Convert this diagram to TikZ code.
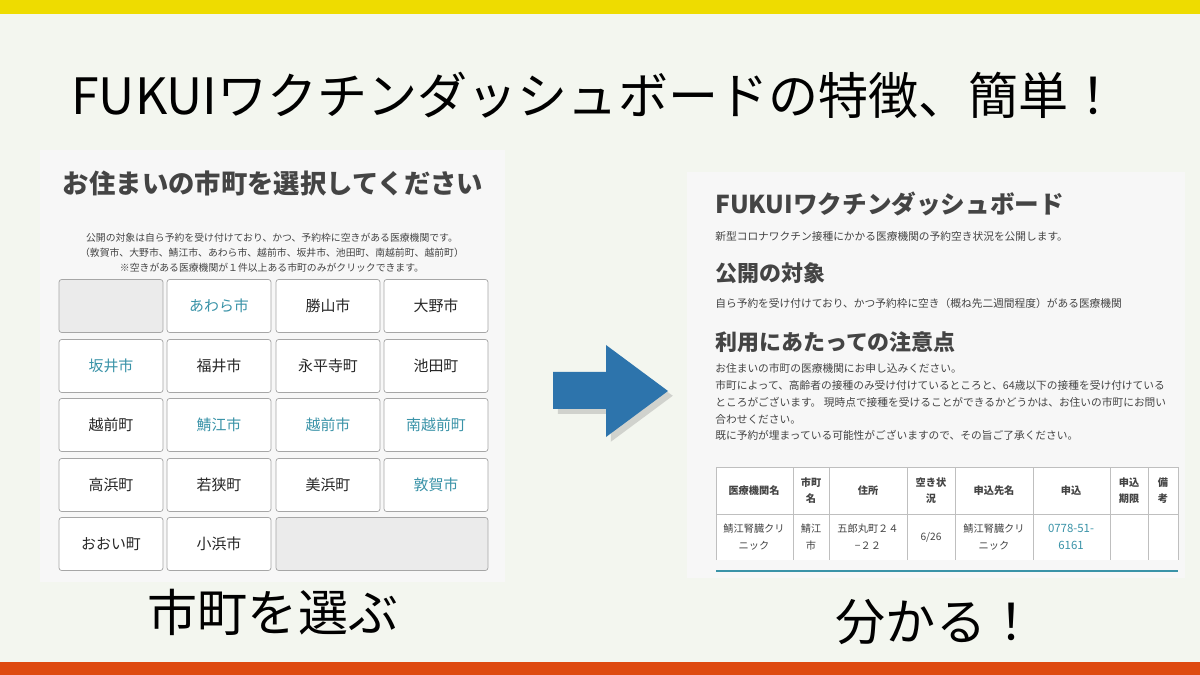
\documentclass[tikz,border=0pt]{standalone}
\usepackage{fontspec}
\setmainfont{Noto Sans CJK JP}
\usetikzlibrary{shadows}
\definecolor{bgcol}{HTML}{F3F6EF}
\definecolor{panelcol}{HTML}{F7F7F7}
\definecolor{textcol}{HTML}{444444}
\definecolor{tealcol}{HTML}{3A93A8}
\definecolor{arrowcol}{HTML}{2D74AC}
\definecolor{topbar}{HTML}{EEDC00}
\definecolor{bottombar}{HTML}{DE4A10}

\begin{document}
\begin{tikzpicture}[x=0.02cm,y=-0.02cm,
    cell/.style={draw=gray!70,fill=white,rounded corners=1.5pt,minimum width=2.08cm,
        minimum height=1.06cm,inner sep=0pt,font=\fontsize{8.5}{10}\selectfont,text=black!85},
    town/.style={cell,text=tealcol},
    blank/.style={cell,fill=black!8},
    note/.style={font=\fontsize{6.1}{9.6}\selectfont,text=textcol,anchor=west,inner sep=0pt},
    head/.style={font=\fontsize{12.5}{14}\selectfont\bfseries,text=textcol,anchor=west,inner sep=0pt},
    th/.style={font=\fontsize{5.8}{9}\selectfont\bfseries,text=textcol,align=center,inner sep=0pt},
    td/.style={font=\fontsize{5.8}{9.6}\selectfont,text=textcol,align=center,inner sep=0pt},
    big/.style={font=\fontsize{28.5}{32}\selectfont}]
    \useasboundingbox (0,0) rectangle (1200,675);
    \fill[bgcol] (0,0) rectangle (1200,675);
    \fill[topbar] (0,0) rectangle (1200,14);
    \fill[bottombar] (0,662) rectangle (1200,675);

    \node[big] (title) at (595,95) {FUKUIワクチンダッシュボードの特徴、簡単！};

    % left: choose a town
    \fill[panelcol] (40,150) rectangle (505,582);
    \node[font=\fontsize{15}{18}\selectfont\bfseries,text=textcol] (pick) at (273,183) {お住まいの市町を選択してください};
    \node[font=\fontsize{5.6}{8.6}\selectfont,text=textcol,align=center] (pickinfo) at (272,253)
        {公開の対象は自ら予約を受け付けており、かつ、予約枠に空きがある医療機関です。\\
         （敦賀市、大野市、鯖江市、あわら市、越前市、坂井市、池田町、南越前町、越前町）\\
         ※空きがある医療機関が１件以上ある市町のみがクリックできます。};
    \node[blank] (c11) at (111,306) {};
    \node[town] (c12) at (219,306) {あわら市};
    \node[cell] (c13) at (328,306) {勝山市};
    \node[cell] (c14) at (436,306) {大野市};
    \node[town] (c21) at (111,366) {坂井市};
    \node[cell] (c22) at (219,366) {福井市};
    \node[cell] (c23) at (328,366) {永平寺町};
    \node[cell] (c24) at (436,366) {池田町};
    \node[cell] (c31) at (111,425) {越前町};
    \node[town] (c32) at (219,425) {鯖江市};
    \node[town] (c33) at (328,425) {越前市};
    \node[town] (c34) at (436,425) {南越前町};
    \node[cell] (c41) at (111,485) {高浜町};
    \node[cell] (c42) at (219,485) {若狭町};
    \node[cell] (c43) at (328,485) {美浜町};
    \node[town] (c44) at (436,485) {敦賀市};
    \node[cell] (c51) at (111,544) {おおい町};
    \node[cell] (c52) at (219,544) {小浜市};
    \node[blank,minimum width=4.24cm] (c53) at (382,544) {};
    \node[big] (choose) at (273,612) {市町を選ぶ};

    % arrow
    \fill[arrowcol,drop shadow={opacity=0.3}] (553,372) -- (606,372) -- (606,345) -- (668,391)
        -- (606,437) -- (606,409) -- (553,409) -- cycle;

    % right: dashboard
    \fill[panelcol] (687,172) rectangle (1185,578);
    \node[head,font=\fontsize{14}{16}\selectfont\bfseries] (dash) at (715,204) {FUKUIワクチンダッシュボード};
    \node[note] (dashsub) at (715,236) {新型コロナワクチン接種にかかる医療機関の予約空き状況を公開します。};
    \node[head] (scope) at (715,273) {公開の対象};
    \node[note] (scopetxt) at (715,303) {自ら予約を受け付けており、かつ予約枠に空き（概ね先二週間程度）がある医療機関};
    \node[head] (caution) at (715,342) {利用にあたっての注意点};
    \node[note,anchor=north west,align=left] (cautiontxt) at (715,363)
        {お住まいの市町の医療機関にお申し込みください。\\
         市町によって、高齢者の接種のみ受け付けているところと、64歳以下の接種を受け付けている\\
         ところがございます。 現時点で接種を受けることができるかどうかは、お住いの市町にお問い\\
         合わせください。\\
         既に予約が埋まっている可能性がございますので、その旨ご了承ください。};

    % table
    \fill[white] (716,467) rectangle (1178,560);
    \draw[gray!50] (716,560) -- (716,467) -- (1178,467) -- (1178,560);
    \draw[gray!50] (716,514) -- (1178,514);
    \foreach \x in {793,829,907,955,1033,1110,1148}
        \draw[gray!50] (\x,467) -- (\x,560);
    \draw[tealcol,thick] (716,571) -- (1178,571);
    \node[th] (h1) at (754,491) {医療機関名};
    \node[th] (h2) at (811,491) {市町\\名};
    \node[th] (h3) at (868,491) {住所};
    \node[th] (h4) at (931,491) {空き状\\況};
    \node[th] (h5) at (994,491) {申込先名};
    \node[th] (h6) at (1071,491) {申込};
    \node[th] (h7) at (1129,491) {申込\\期限};
    \node[th] (h8) at (1163,491) {備\\考};
    \node[td] (d1) at (754,537) {鯖江腎臓クリ\\ニック};
    \node[td] (d2) at (811,537) {鯖江\\市};
    \node[td] (d3) at (868,537) {五郎丸町２４\\−２２};
    \node[td] (d4) at (931,537) {6/26};
    \node[td] (d5) at (994,537) {鯖江腎臓クリ\\ニック};
    \node[td,text=tealcol,font=\fontsize{6.5}{10}\selectfont] (d6) at (1071,537) {0778-51-\\6161};
    \node[big] (know) at (936,622) {分かる！};
\end{tikzpicture}
\end{document}
